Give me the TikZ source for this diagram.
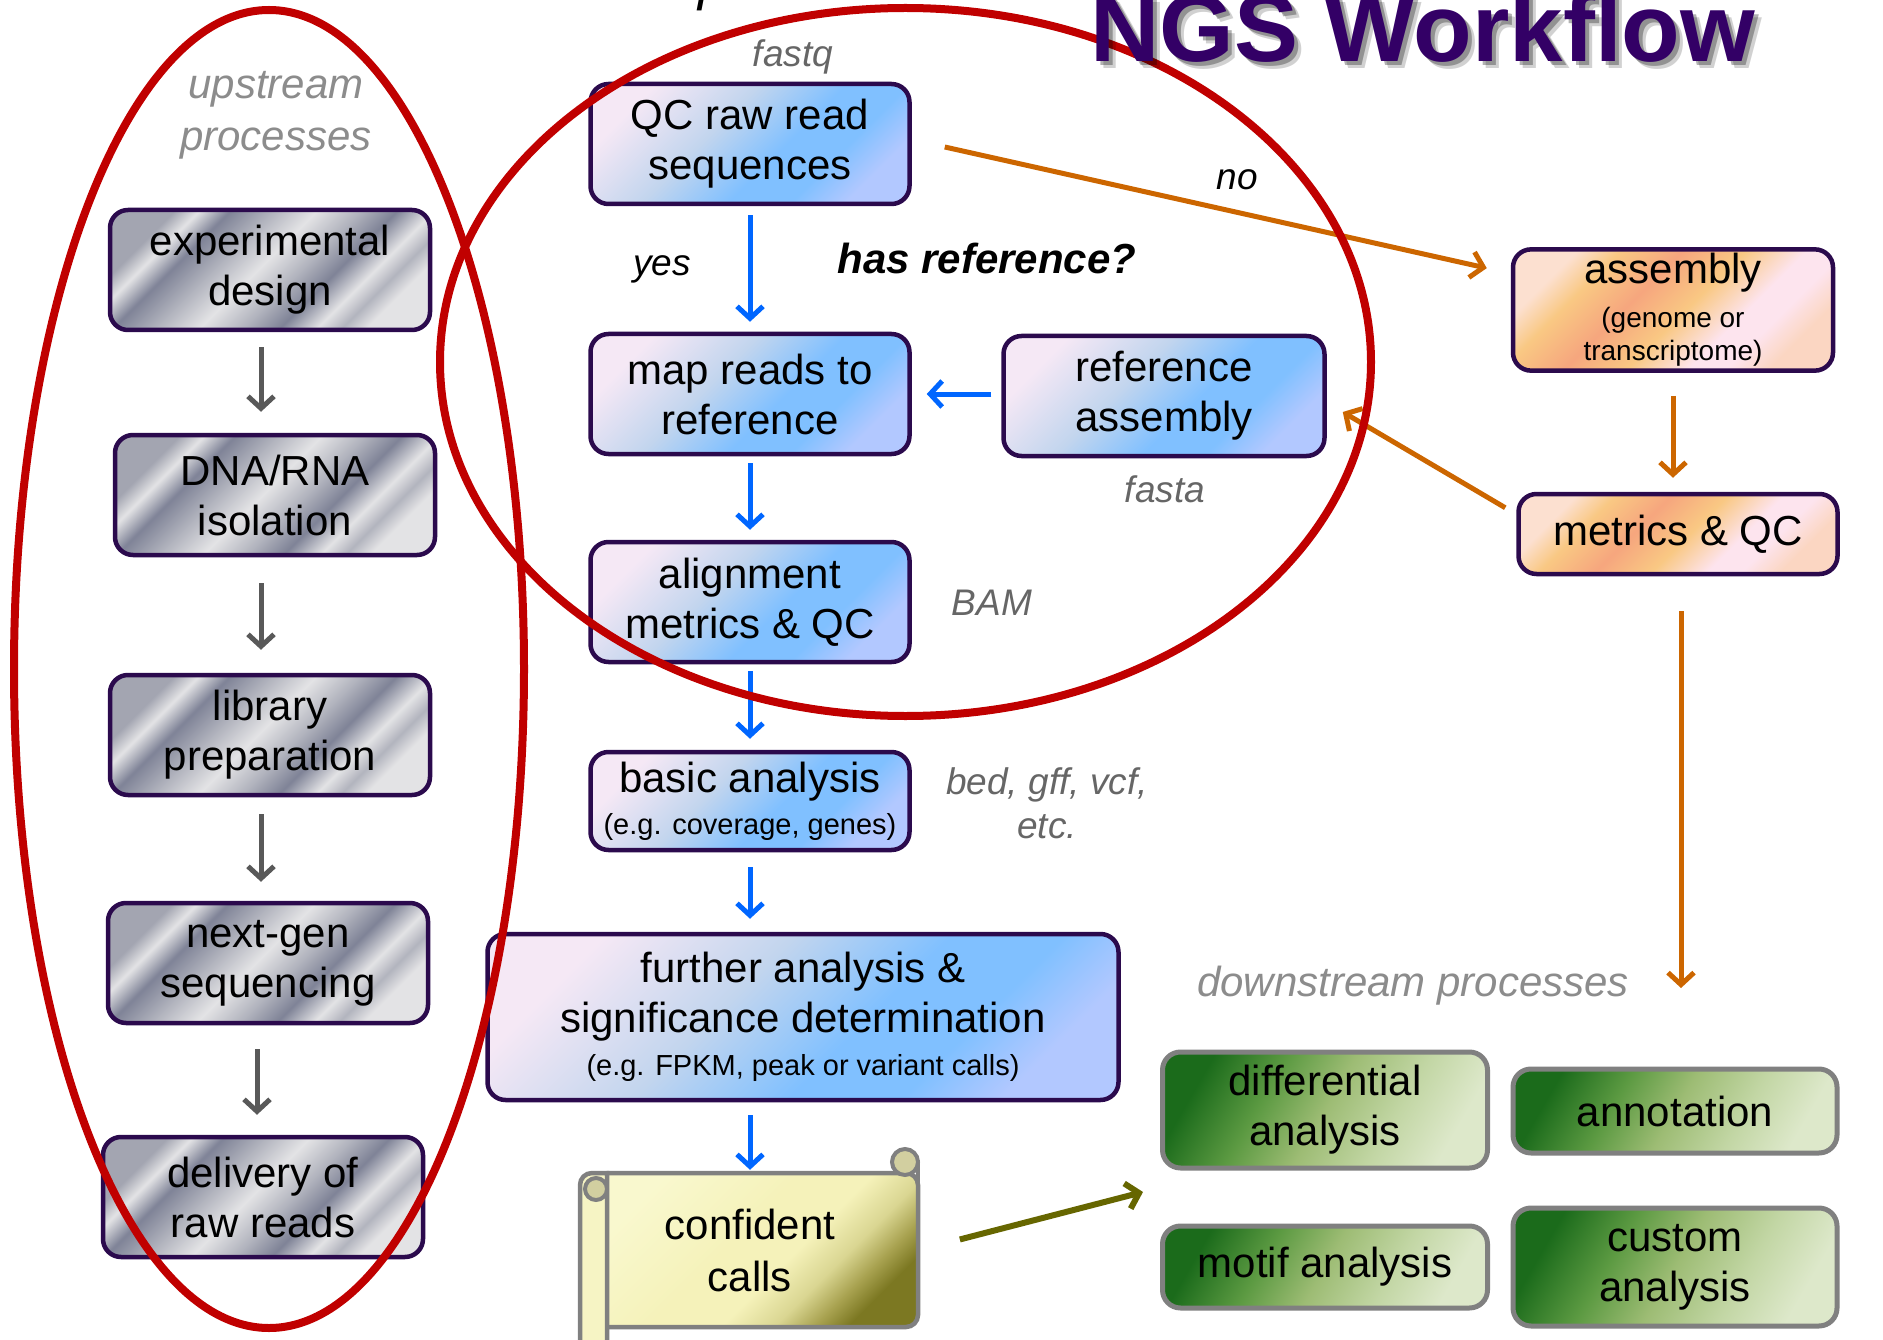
\documentclass[tikz,border=0pt]{standalone}
\usepackage{fontspec}
\setmainfont{Liberation Sans}
\usetikzlibrary{arrows.meta,calc}
\definecolor{boxline}{HTML}{2B0A4D}
\definecolor{grline}{HTML}{808080}
\definecolor{redline}{HTML}{C00000}
\definecolor{bluearr}{HTML}{0066FF}
\definecolor{orangearr}{HTML}{CC6600}
\definecolor{olivearr}{HTML}{666600}
\definecolor{grayarr}{HTML}{595959}
\definecolor{labgray}{HTML}{666666}
\definecolor{lightgray}{HTML}{8C8C8C}
\definecolor{titlepurple}{HTML}{330066}
\definecolor{mtA}{HTML}{A3A5B1}
\definecolor{mtB}{HTML}{E3E3E5}
\definecolor{mtC}{HTML}{B2B4BE}
\definecolor{mtD}{HTML}{7F8397}
\definecolor{bA}{HTML}{F5E8F5}
\definecolor{bB}{HTML}{C2D5EE}
\definecolor{bC}{HTML}{80C0FF}
\definecolor{bD}{HTML}{B2C8FF}
\definecolor{oA}{HTML}{FCE0D0}
\definecolor{oB}{HTML}{F9C883}
\definecolor{oC}{HTML}{F6A67E}
\definecolor{oD}{HTML}{FDE4EE}
\definecolor{oE}{HTML}{FBD6C2}
\definecolor{gA}{HTML}{1B6B1B}
\definecolor{gB}{HTML}{5C9A42}
\definecolor{gC}{HTML}{9DBC74}
\definecolor{gD}{HTML}{C2D6A4}
\definecolor{gE}{HTML}{DDE8CA}
\definecolor{sA}{HTML}{F9F8CE}
\definecolor{sB}{HTML}{F5F2BA}
\definecolor{sC}{HTML}{DAD692}
\definecolor{sD}{HTML}{A8A250}
\definecolor{sE}{HTML}{7C7822}
\definecolor{scrollpale}{HTML}{F6F4C4}
\definecolor{scrolltan}{HTML}{D2CFA0}
\pgfdeclarehorizontalshading{metal}{100bp}{color(0bp)=(mtA); color(25bp)=(mtA); color(29bp)=(mtB); color(34bp)=(mtD); color(41bp)=(mtC); color(48bp)=(mtB); color(55bp)=(mtC); color(61bp)=(mtD); color(67bp)=(mtB); color(71bp)=(mtC); color(75bp)=(mtB); color(100bp)=(mtB)}
\pgfdeclarehorizontalshading{bluesh}{100bp}{color(0bp)=(bA); color(25bp)=(bA); color(42bp)=(bB); color(56bp)=(bC); color(66bp)=(bC); color(75bp)=(bD); color(100bp)=(bD)}
\pgfdeclarehorizontalshading{orangesh}{100bp}{color(0bp)=(oA); color(25bp)=(oA); color(32bp)=(oB); color(42bp)=(oC); color(52bp)=(oB); color(62bp)=(oD); color(68bp)=(oD); color(75bp)=(oE); color(100bp)=(oE)}
\pgfdeclarehorizontalshading{greensh}{100bp}{color(0bp)=(gA); color(25bp)=(gA); color(38bp)=(gB); color(50bp)=(gC); color(63bp)=(gD); color(75bp)=(gE); color(100bp)=(gE)}
\pgfdeclarehorizontalshading{scrollsh}{100bp}{color(0bp)=(sA); color(25bp)=(sA); color(45bp)=(sB); color(56bp)=(sB); color(64bp)=(sC); color(70bp)=(sD); color(75bp)=(sE); color(100bp)=(sE)}
\tikzset{
  box/.style={rounded corners=18pt, line width=4.5pt, draw=boxline, align=center, inner sep=4pt, font=\fontsize{42}{50}\selectfont, text=black},
  graybox/.style={box, shading=metal, shading angle=-45},
  bluebox/.style={box, shading=bluesh, shading angle=-45},
  orangebox/.style={box, shading=orangesh, shading angle=-45},
  greenbox/.style={box, draw=grline, line width=5pt, shading=greensh, shading angle=-30},
  arr/.style={line width=5pt, -{Straight Barb[length=12pt,width=26pt]}},
  bluearrow/.style={arr, draw=bluearr},
  orangearrow/.style={arr, draw=orangearr},
  grayarrow/.style={arr, draw=grayarr},
  olivearrow/.style={arr, line width=6pt, draw=olivearr},
  graylab/.style={text=labgray, font=\fontsize{37}{44}\selectfont\itshape, align=center, inner sep=0pt},
  procslab/.style={text=lightgray, font=\fontsize{42}{52}\selectfont\itshape, align=center, inner sep=0pt},
  blacklab/.style={text=black, font=\fontsize{37}{44}\selectfont\itshape, inner sep=0pt},
  ring/.style={draw=redline, line width=8pt},
  scrollline/.style={draw=grline, line width=4.5pt}
}
\newcommand{\smalltxt}{\fontsize{29}{35}\selectfont}
\begin{document}
\begin{tikzpicture}[x=1pt,y=-1pt]
\useasboundingbox (0,0) rectangle (1883,1340);

% upstream column
\node[graybox, minimum width=320pt, minimum height=120pt] (e1) at (270,270) {experimental\\design};
\node[graybox, minimum width=320pt, minimum height=120pt] (e2) at (275,495) {DNA/RNA\\isolation};
\node[graybox, minimum width=320pt, minimum height=120pt] (e3) at (270,735) {library\\preparation};
\node[graybox, minimum width=320pt, minimum height=120pt] (e4) at (268,963) {next-gen\\sequencing};
\node[graybox, minimum width=320pt, minimum height=120pt] (e5) at (263,1197) {delivery of\\raw reads};
\node[procslab] (upl) at (276,115) {upstream\\processes};

\draw[grayarrow] ($(e1.south)+(-9,15)$) -- ($(e2.north)+(-14,-21)$);
\draw[grayarrow] ($(e2.south)+(-14,26)$) -- ($(e3.north)+(-9,-23)$);
\draw[grayarrow] ($(e3.south)+(-9,17)$) -- ($(e4.north)+(-7,-19)$);
\draw[grayarrow] ($(e4.south)+(-11,24)$) -- ($(e5.north)+(-6,-20)$);

% core column
\node[bluebox, minimum width=319pt, minimum height=120pt] (qc) at (750,144) {QC raw read\\sequences};
\node[bluebox, minimum width=319pt, minimum height=120pt] (map) at (750,394) {map reads to\\reference};
\node[bluebox, minimum width=321pt, minimum height=120pt] (ref) at (1164,396) {reference\\assembly};
\node[bluebox, minimum width=319pt, minimum height=120pt] (aln) at (750,602) {alignment\\metrics \& QC};
\node[bluebox, minimum width=319pt, minimum height=98pt] (bas) at (750,801) {basic analysis\\[-8pt]{\smalltxt (e.g. coverage, genes)}};
\node[bluebox, minimum width=631pt, minimum height=166pt] (fur) at (803,1017) {further analysis \&\\significance determination\\[-7pt]{\smalltxt (e.g. FPKM, peak or variant calls)}};

% scroll
\shadedraw[shading=scrollsh, shading angle=-45, scrollline, rounded corners=12pt] (596,1173) rectangle (918,1327);
\draw[scrollline] (918,1160) -- (918,1192);
\path[fill=scrollpale, scrollline] (607,1350) -- (607,1173) [rounded corners=12pt] -- (580,1173) -- (580,1350);
\path[fill=scrolltan, scrollline, line width=4pt] (596,1189) circle (11);
\path[fill=scrolltan, scrollline, line width=4pt] (905,1162) circle (13);
\node[minimum width=338pt, minimum height=154pt, inner sep=0pt, align=center, font=\fontsize{42}{52}\selectfont] (conf) at (750,1250) {confident\\calls};

\draw[bluearrow, shorten <=9pt, shorten >=10pt] (qc.south) -- (map.north);
\draw[bluearrow, shorten <=10pt, shorten >=15pt] (ref.west |- map.east) -- (map.east);
\draw[bluearrow, shorten <=7pt, shorten >=10pt] (map.south) -- (aln.north);
\draw[bluearrow, shorten <=7pt, shorten >=11pt] (aln.south) -- (bas.north);
\draw[bluearrow, shorten <=15pt, shorten >=13pt] (bas.south) -- (bas.south |- fur.north);
\draw[bluearrow, shorten <=13pt, shorten >=3pt] (bas.south |- fur.south) -- (conf.north);

% labels
\node[graylab] (lfastq) at (793,57) {fastq};
\node[blacklab] (lyes) at (662,269) {yes};
\node[text=black, font=\fontsize{42}{50}\selectfont\bfseries\itshape, inner sep=0pt] (lhas) at (987,258) {has reference?};
\node[blacklab] (lno) at (1237,180) {no};
\node[graylab] (lfasta) at (1165,489) {fasta};
\node[graylab] (lbam) at (992,603) {BAM};
\node[graylab] (lbed) at (1047,803) {bed, gff, vcf,\\etc.};
\node[procslab] (ldown) at (1413,986) {downstream processes};
\node[anchor=base west, inner sep=0pt, font=\fontsize{55}{60}\selectfont\itshape] (lcore) at (576,0) {core processes};

% assembly branch
\node[orangebox, minimum width=320pt, minimum height=120pt] (asm) at (1673,310) {assembly\\[-6pt]{\fontsize{28}{34}\selectfont (genome or}\\[-17pt]{\fontsize{28}{34}\selectfont transcriptome)}};
\node[orangebox, minimum width=319pt, minimum height=80pt] (mqc) at (1678,534) {metrics \& QC};
\coordinate (downend) at (1681,988);

\draw[orangearrow] ($(qc.east)+(33,3)$) -- ($(asm.north west)+(-24,21)$);
\draw[orangearrow, shorten <=23pt, shorten >=14pt] (asm.south) -- (asm.south |- mqc.north);
\draw[orangearrow] ($(mqc.north west)+(-11,16)$) -- ($(ref.east)+(16,16)$);
\draw[orangearrow, shorten <=35pt] (mqc.south -| downend) -- (downend);

% downstream
\node[greenbox, minimum width=325pt, minimum height=116pt] (dif) at (1325,1110) {differential\\analysis};
\node[greenbox, minimum width=324pt, minimum height=84pt] (ann) at (1675,1111) {annotation};
\node[greenbox, minimum width=325pt, minimum height=82pt] (mot) at (1325,1267) {motif analysis};
\node[greenbox, minimum width=324pt, minimum height=118pt] (cus) at (1675,1267) {custom\\analysis};
\coordinate (olivetip) at (1143,1192);
\draw[olivearrow, shorten <=42pt] (conf.east) -- (olivetip);

% rings
\draw[ring] (269,669) ellipse [x radius=255, y radius=659];
\draw[ring] (905.5,362) ellipse [x radius=465.5, y radius=354];

% title
\node[anchor=base west, inner sep=0pt, text=black, opacity=0.18, font=\fontsize{96}{96}\selectfont\bfseries] (tsh2) at (1097,69) {NGS Workflow};
\node[anchor=base west, inner sep=0pt, text=black, opacity=0.3, font=\fontsize{96}{96}\selectfont\bfseries] (tsh1) at (1094,66) {NGS Workflow};
\node[anchor=base west, inner sep=0pt, text=titlepurple, font=\fontsize{96}{96}\selectfont\bfseries] (title) at (1090,62) {NGS Workflow};
\end{tikzpicture}
\end{document}
